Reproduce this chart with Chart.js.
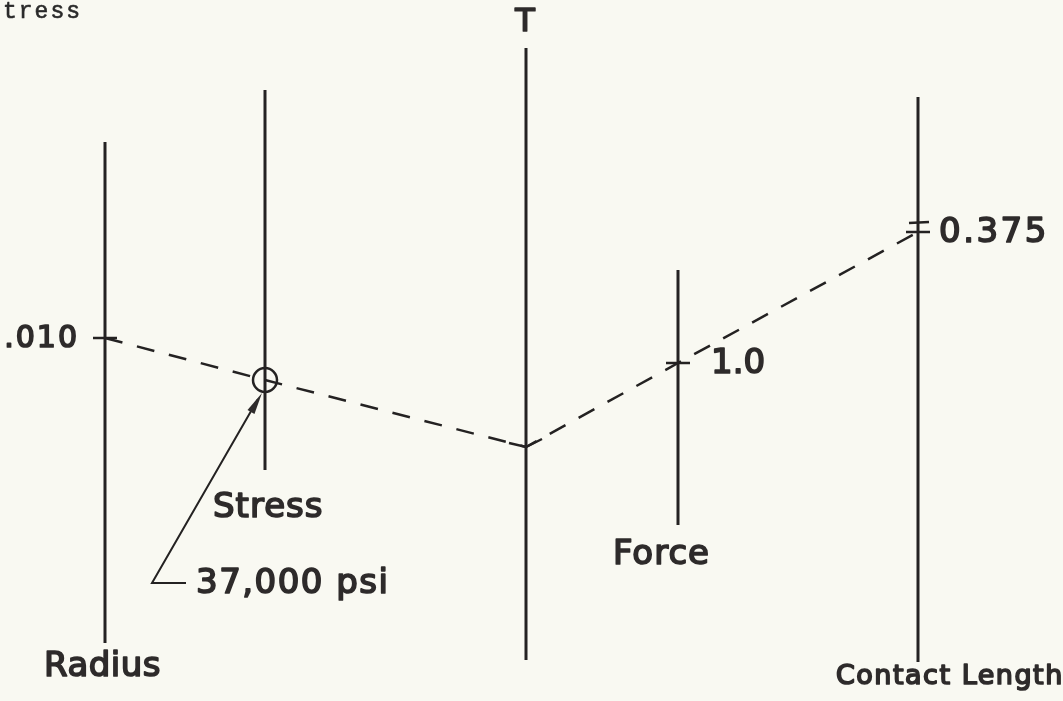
<!DOCTYPE html>
<html>
<head>
<meta charset="utf-8">
<script src="https://cdn.jsdelivr.net/npm/chart.js@4"></script>
<style>
  html, body { margin: 0; padding: 0; background: #f9f9f2; }
  #wrap { width: 1063px; height: 701px; }
</style>
</head>
<body>
<div id="wrap"><canvas id="nomo" width="1063" height="701"></canvas></div>
<script>
'use strict';

// nomograph scales, in drawing units
const axisNames  = ['Radius', 'Stress', 'T', 'Force', 'Contact Length'];
const axisX      = [105, 265, 526, 678, 918];
const axisTop    = [142, 90, 48, 270, 97];
const axisBottom = [643, 470, 660, 525, 662];

// key line for the worked example (radius .010, force 1.0, length 0.375)
const keyX      = [105, 265, 526, 678, 918];
const keyY      = [338, 380, 447, 363, 232];
const keyLabels = ['.010', '37,000 psi', '', '1.0', '0.375'];

const INK = '#242222';

const datasets = [];

axisNames.forEach((name, i) => {
  datasets.push({
    label: name,
    data: [{ x: axisX[i], y: axisTop[i] }, { x: axisX[i], y: axisBottom[i] }],
    showLine: true, borderColor: INK, borderWidth: 3, pointRadius: 0,
  });
});

datasets.push({
  label: 'key',
  data: keyX.map((x, i) => ({ x, y: keyY[i] })),
  showLine: true, borderColor: INK, borderWidth: 2.5, borderDash: [18, 15],
  pointRadius: 0,
});

// little V where the key line hits T
datasets.push({
  label: 'pivot',
  data: [{ x: 509, y: 443 }, { x: keyX[2], y: keyY[2] }, { x: 542, y: 439 }],
  showLine: true, borderColor: INK, borderWidth: 2.5, pointRadius: 0,
});

// tick marks on the scales that carry a value
[0, 3, 4].forEach(i => {
  datasets.push({
    label: 'tick' + i,
    data: [{ x: keyX[i] - 12, y: keyY[i] }, { x: keyX[i] + 12, y: keyY[i] }],
    showLine: true, borderColor: INK, borderWidth: 2.5, pointRadius: 0,
  });
});
datasets.push({
  label: 'tick4b',
  data: [{ x: keyX[4] - 9, y: keyY[4] - 9 }, { x: keyX[4] + 11, y: keyY[4] - 10 }],
  showLine: true, borderColor: INK, borderWidth: 2.5, pointRadius: 0,
});

// circled stress reading
datasets.push({
  label: 'stress point',
  data: [{ x: keyX[1], y: keyY[1] }],
  pointStyle: 'circle', pointRadius: 12, pointBorderWidth: 2.5,
  pointBorderColor: INK, pointBackgroundColor: 'rgba(0,0,0,0)',
});

// leader from the 37,000 psi label
datasets.push({
  label: 'leader',
  data: [{ x: 186, y: 583 }, { x: 152, y: 583 }, { x: 258, y: 399 }],
  showLine: true, borderColor: INK, borderWidth: 2, pointRadius: 0,
});

const textPlugin = {
  id: 'nomoText',
  afterDatasetsDraw(chart) {
    const { ctx, scales: { x, y } } = chart;
    const px = v => x.getPixelForValue(v);
    const py = v => y.getPixelForValue(v);

    ctx.save();
    ctx.fillStyle = '#2e2b2b';
    ctx.strokeStyle = '#2e2b2b';
    ctx.lineWidth = 1.7;
    ctx.lineJoin = 'round';
    ctx.textBaseline = 'middle';

    // arrow head at the circle
    const tipX = px(262), tipY = py(393);
    const ang = Math.atan2(tipY - py(583), tipX - px(152));
    ctx.beginPath();
    ctx.moveTo(tipX, tipY);
    ctx.lineTo(tipX - 22 * Math.cos(ang) + 4 * Math.sin(ang), tipY - 22 * Math.sin(ang) - 4 * Math.cos(ang));
    ctx.lineTo(tipX - 22 * Math.cos(ang) - 4 * Math.sin(ang), tipY - 22 * Math.sin(ang) + 4 * Math.cos(ang));
    ctx.closePath();
    ctx.fill();

    const put = (txt, vx, vy, size, align, spacing) => {
      ctx.font = size + 'px "DejaVu Sans"';
      ctx.letterSpacing = (spacing || 0) + 'px';
      ctx.textAlign = align;
      ctx.fillText(txt, px(vx), py(vy));
      ctx.strokeText(txt, px(vx), py(vy));
    };

    put(keyLabels[0], 79, keyY[0] + 1, 30, 'right', 2);
    put(keyLabels[1], 196, 584, 34, 'left', 1.5);
    put(keyLabels[3], 711, keyY[3] + 1, 34, 'left', 0);
    put(keyLabels[4], 939, keyY[4] + 1, 34, 'left', 2.5);

    put(axisNames[0], 44, 667, 34, 'left', 0.5);
    put(axisNames[1], 213, 508, 34, 'left', 1);
    put(axisNames[2], 525, 23, 32, 'center', 0);
    put(axisNames[3], 613, 555, 34, 'left', 1);
    put(axisNames[4], 836, 677, 27, 'left', 1.5);

    // stray typewritten fragment at the top-left
    ctx.font = '23px "Liberation Mono"';
    ctx.letterSpacing = '2px';
    ctx.textAlign = 'left';
    ctx.textBaseline = 'alphabetic';
    ctx.fillStyle = '#2a2a2a';
    ctx.strokeStyle = '#2a2a2a';
    ctx.lineWidth = 0.6;
    ctx.fillText('tress', px(3), py(18));
    ctx.strokeText('tress', px(3), py(18));
    ctx.restore();
  },
};

new Chart(document.getElementById('nomo'), {
  type: 'scatter',
  data: { datasets },
  options: {
    responsive: false,
    animation: false,
    layout: { padding: 0, autoPadding: false },
    plugins: { legend: { display: false }, tooltip: { enabled: false } },
    scales: {
      x: { type: 'linear', min: 0, max: 1063, display: false },
      y: { type: 'linear', min: 0, max: 701, reverse: true, display: false },
    },
  },
  plugins: [textPlugin],
});
</script>
</body>
</html>
